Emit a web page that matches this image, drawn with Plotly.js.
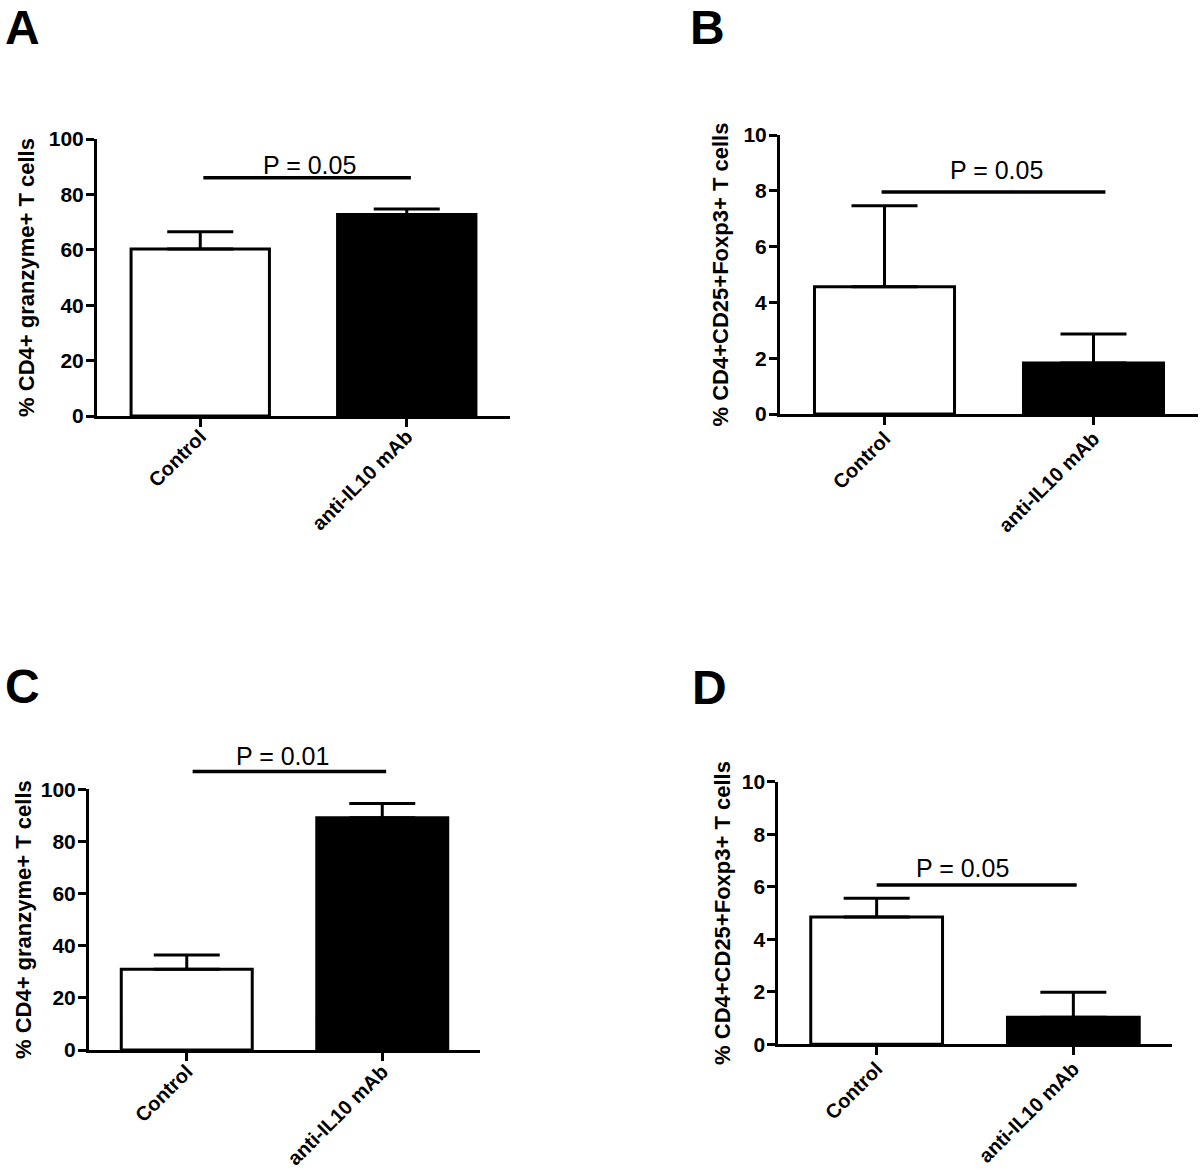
<!DOCTYPE html>
<html>
<head>
<meta charset="utf-8">
<script src="https://cdn.plot.ly/plotly-3.0.1.min.js"></script>
<style>
  html, body { margin: 0; padding: 0; background: #ffffff; }
  #chart { width: 1200px; height: 1169px; }
</style>
</head>
<body>
<div id="chart"></div>
<script>
// ---------------- data ----------------
const categories = ['Control', 'anti-IL10 mAb'];
const panelLetters = ['A', 'B', 'C', 'D'];
const yTitles = [
  '% CD4+ granzyme+ T cells',
  '% CD4+CD25+Foxp3+ T cells',
  '% CD4+ granzyme+ T cells',
  '% CD4+CD25+Foxp3+ T cells'
];
const meanA = [60.3, 72.7];
const errA  = [6.2, 2.0];
const meanB = [4.56, 1.83];
const errB  = [2.9, 1.04];
const meanC = [31.0, 89.1];
const errC  = [5.4, 5.5];
const meanD = [4.85, 1.03];
const errD  = [0.71, 0.95];
const pLabels   = ['P = 0.05', 'P = 0.05', 'P = 0.01', 'P = 0.05'];
const pLineY    = [86, 7.96, 106.8, 6.07];
const pLineFrom = [0.015, -0.014, 0.03, 0.0];
const pLineTo   = [1.02, 1.057, 1.02, 1.017];
const yAxisMax  = [100, 10, 100, 10];
const yTickStep = [20, 2, 20, 2];

const means = [meanA, meanB, meanC, meanD];
const errs  = [errA, errB, errC, errD];

// ---------------- layout geometry (pixels of the 1200x1169 page) ----------------
const W = 1200, H = 1169;
const frames = [
  {left: 97,    right: 510,    zero: 416,    top: 139,   roomTop: 100, labelX: 0.527, labelShift: -3, letterX: 4,   letterTop: 0,
   titleGap: 9, xLabelShift: -10},
  {left: 780,   right: 1198,   zero: 414,    top: 135,   roomTop: 10,  labelX: 0.538, labelShift: 6,  letterX: 689, letterTop: 0,
   titleGap: 9, xLabelShift: -6},
  {left: 89,    right: 480,    zero: 1050,   top: 789.3, roomTop: 112, labelX: 0.489, labelShift: 0,  letterX: 4,   letterTop: 659,
   titleGap: 4,  xLabelShift: -9},
  {left: 778.3, right: 1171.7, zero: 1044.3, top: 781.7, roomTop: 10,  labelX: 0.437, labelShift: 1,  letterX: 691, letterTop: 660,
   titleGap: 6,  xLabelShift: -6}
];

const FONT = 'Liberation Sans, Arial, Helvetica, sans-serif';
const xIdx = categories.map((c, k) => k);

const data = [];
const layout = {
  width: W, height: H,
  margin: {l: 0, r: 0, t: 0, b: 0},
  paper_bgcolor: '#ffffff',
  plot_bgcolor: 'rgba(0,0,0,0)',
  showlegend: false,
  font: {family: FONT, color: '#000000'},
  annotations: [],
  bargap: 0
};

frames.forEach((f, i) => {
  const s = i === 0 ? '' : String(i + 1);
  const sb = String(i + 5);
  const xd = [f.left / W, f.right / W];
  const yd = [1 - f.zero / H, 1 - f.top / H];
  const extTopPx = f.zero - (f.zero - f.top) * f.roomTop / yAxisMax[i];
  const ydExt = [1 - f.zero / H, 1 - extTopPx / H];

  // bars with upward error bars
  data.push({
    type: 'bar',
    x: xIdx, y: means[i],
    width: 0.67,
    xaxis: 'x' + s, yaxis: 'y' + s,
    marker: {color: ['#ffffff', '#000000'], line: {color: '#000000', width: 3}},
    error_y: {type: 'data', symmetric: false, array: errs[i], arrayminus: [0, 0],
              color: '#000000', thickness: 3, width: 33},
    hoverinfo: 'skip'
  });

  // significance bracket on a hidden overlay subplot with head-room
  data.push({
    type: 'scatter', mode: 'lines',
    x: [pLineFrom[i], pLineTo[i]], y: [pLineY[i], pLineY[i]],
    xaxis: 'x' + sb, yaxis: 'y' + sb,
    line: {color: '#000000', width: 3.5},
    hoverinfo: 'skip'
  });

  layout['xaxis' + s] = {
    domain: xd, anchor: 'y' + s,
    range: [-0.5, 1.5],
    tickmode: 'array', tickvals: xIdx, ticktext: categories,
    tickangle: -45,
    tickfont: {family: FONT, size: 20, weight: 'bold', color: '#000000'},
    ticklabelstandoff: f.xLabelShift,
    ticks: 'outside', ticklen: 8, tickwidth: 3, tickcolor: '#000000',
    showline: true, linewidth: 3, linecolor: '#000000',
    showgrid: false, zeroline: false, fixedrange: true
  };
  layout['yaxis' + s] = {
    domain: yd, anchor: 'x' + s,
    range: [0, yAxisMax[i]],
    tick0: 0, dtick: yTickStep[i],
    tickfont: {family: FONT, size: 21, weight: 'bold', color: '#000000'},
    ticklabelstandoff: -2,
    ticks: 'outside', ticklen: 8, tickwidth: 3, tickcolor: '#000000',
    showline: true, linewidth: 3, linecolor: '#000000',
    showgrid: false, zeroline: false, fixedrange: true,
    title: {text: yTitles[i], standoff: f.titleGap,
            font: {family: FONT, size: 22, weight: 'bold', color: '#000000'}}
  };
  layout['xaxis' + sb] = {
    domain: xd, anchor: 'y' + sb, range: [-0.5, 1.5], visible: false, fixedrange: true
  };
  layout['yaxis' + sb] = {
    domain: ydExt, anchor: 'x' + sb, range: [0, f.roomTop], visible: false, fixedrange: true
  };

  layout.annotations.push({
    xref: 'x' + sb, yref: 'y' + sb,
    x: f.labelX, y: pLineY[i],
    xanchor: 'center', yanchor: 'bottom', yshift: f.labelShift,
    text: pLabels[i], showarrow: false,
    font: {family: FONT, size: 25, color: '#000000'}
  });
  layout.annotations.push({
    xref: 'paper', yref: 'paper',
    x: f.letterX / W, y: 1 - f.letterTop / H,
    xanchor: 'left', yanchor: 'top', borderpad: 0,
    text: panelLetters[i], showarrow: false,
    font: {family: FONT, size: 48, weight: 'bold', color: '#000000'}
  });
});

Plotly.newPlot('chart', data, layout, {displayModeBar: false, staticPlot: true});
</script>
</body>
</html>
